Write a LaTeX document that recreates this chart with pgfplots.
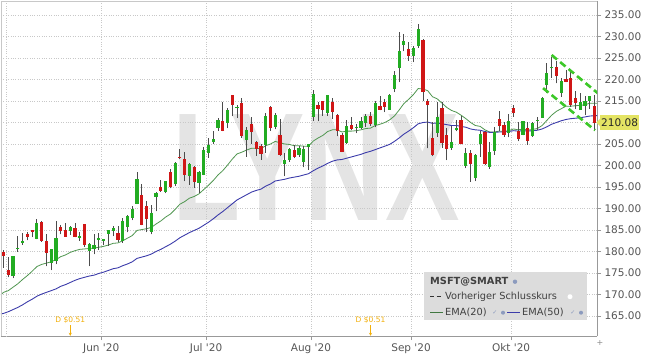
\documentclass[border=0pt]{standalone}
\usepackage{pgfplots}
\pgfplotsset{compat=1.18}
\usepackage{pgfplotstable}
\usepackage{fontspec}
\setmainfont{DejaVu Sans}[Ligatures=TeXOff]
\newfontfamily\wmfont{Liberation Sans}
\usetikzlibrary{arrows.meta}
\definecolor{upg}{RGB}{34,172,34}
\definecolor{dnr}{RGB}{208,22,22}
\definecolor{emag}{RGB}{80,150,80}
\definecolor{emab}{RGB}{60,60,170}
\definecolor{gridc}{RGB}{200,200,200}
\definecolor{lblc}{RGB}{85,85,85}
\definecolor{divc}{RGB}{242,175,10}
\definecolor{hlc}{RGB}{228,228,100}
\definecolor{chan}{RGB}{60,200,40}
\definecolor{wm}{RGB}{228,228,228}
\definecolor{legbg}{RGB}{220,220,220}
\definecolor{icon}{RGB}{140,155,190}

\pgfplotstableread{
i o h l c
1 174.49 179.00 173.80 178.84
2 180.62 183.65 179.90 180.76
3 182.08 184.20 181.63 182.54
6 183.15 187.51 182.85 186.74
9 177.54 180.69 175.68 180.53
10 178.00 187.06 177.00 183.16
13 184.81 185.85 183.94 185.66
15 183.19 184.46 182.54 183.51
17 180.20 181.99 176.60 181.81
18 180.74 184.10 179.32 181.40
19 182.73 184.27 180.41 183.25
20 182.54 183.00 181.46 182.83
21 184.25 185.00 181.35 184.91
22 184.82 185.94 183.58 185.36
24 182.62 187.73 182.01 187.20
25 185.94 188.55 184.44 188.36
26 188.00 190.64 187.32 189.80
27 191.13 198.52 191.01 196.84
30 184.58 190.82 184.01 188.94
31 192.89 193.75 189.32 193.57
33 194.00 196.49 193.60 196.32
35 195.79 200.76 195.23 200.57
38 197.80 200.61 195.47 200.34
40 196.00 198.75 193.63 198.44
41 197.88 204.40 197.74 203.51
42 203.14 206.35 201.77 204.70
43 205.68 208.02 205.00 206.26
44 208.83 211.13 208.09 210.70
46 210.07 213.26 208.69 212.83
48 213.62 214.08 211.08 213.67
50 206.13 208.85 202.03 208.35
54 205.00 212.30 203.01 211.60
56 209.20 212.30 208.39 211.75
58 200.42 202.86 197.51 201.30
59 201.47 203.97 200.86 203.85
61 202.50 204.65 202.01 204.06
62 201.00 204.46 199.57 203.90
63 204.40 205.10 199.01 205.01
64 211.52 217.64 210.44 216.54
67 212.34 216.37 211.55 216.35
71 205.29 210.61 205.00 209.19
73 208.76 209.59 207.51 208.90
74 208.87 211.19 208.50 210.28
75 210.03 212.00 209.00 211.49
77 209.54 215.00 208.91 214.58
80 213.10 216.61 213.10 216.47
81 217.88 222.07 217.05 221.15
82 222.89 231.15 219.40 226.58
83 228.18 230.64 226.58 228.91
85 225.51 227.89 224.02 227.27
86 227.97 232.86 227.35 231.65
90 207.60 214.84 206.70 211.29
93 204.24 209.20 203.65 205.41
94 208.42 210.57 207.96 208.78
96 200.05 204.10 199.38 202.91
98 197.19 202.71 196.38 202.54
99 205.06 208.10 202.08 207.42
101 199.85 205.57 199.20 203.19
102 203.55 209.04 202.54 207.82
105 207.73 211.98 206.54 210.33
108 207.22 210.41 206.98 210.38
110 207.06 210.11 206.72 209.83
111 210.51 211.19 208.32 210.58
112 211.23 215.86 211.23 215.81
113 218.79 223.86 216.81 221.40
114 222.72 225.21 220.43 222.86
116 217.10 220.36 216.01 219.66
120 213.12 216.92 213.12 214.80
121 213.93 216.06 211.70 214.89
122 215.03 216.28 213.16 216.23
}\upT

\pgfplotstableread{
i o h l c
-1 180.00 180.40 176.23 179.21
0 175.80 178.64 174.01 174.57
4 184.17 184.55 182.58 183.60
5 184.98 185.00 183.36 184.68
7 186.80 187.04 182.30 182.51
8 182.55 184.05 176.54 179.75
11 185.75 186.20 183.96 184.91
12 185.03 186.60 183.49 183.63
14 185.40 186.67 183.29 183.43
16 186.34 186.50 181.10 181.57
23 184.30 185.84 182.30 182.92
28 193.13 195.77 186.07 186.27
29 190.54 191.72 184.50 187.74
32 195.03 196.72 193.86 194.24
34 198.59 199.29 194.67 195.15
36 202.09 203.95 201.43 201.91
37 201.60 203.25 196.36 197.84
39 199.73 199.89 194.88 196.33
45 210.45 214.67 207.99 208.25
47 216.33 216.38 211.47 214.32
49 214.48 215.80 206.50 207.07
51 209.56 211.33 205.03 208.04
52 205.40 205.70 202.31 203.92
53 204.47 205.04 201.39 202.88
55 213.66 213.94 208.03 208.75
57 207.19 210.92 202.15 202.54
60 203.61 204.70 201.74 202.02
65 214.17 214.77 210.31 213.29
66 214.90 215.00 211.57 212.94
68 214.85 215.70 210.93 212.48
69 211.67 211.88 206.76 208.25
70 207.16 207.65 203.14 203.38
72 209.44 211.35 208.15 208.70
76 211.49 212.50 209.30 209.70
78 213.86 216.25 212.85 213.02
79 214.79 215.52 212.43 213.69
84 227.00 228.70 224.31 225.53
87 229.27 229.31 214.96 217.30
88 215.10 215.42 204.00 214.25
89 206.50 210.03 202.20 202.66
91 213.40 214.74 204.11 205.37
92 207.20 208.63 201.24 204.03
95 210.62 211.43 204.90 205.05
97 202.80 203.65 196.25 200.39
100 207.90 208.10 200.03 200.59
103 210.88 212.57 208.06 209.44
104 209.35 210.07 206.72 207.26
106 213.49 213.99 211.32 212.46
107 208.00 210.19 205.65 206.19
109 208.82 210.18 204.82 205.91
115 223.00 224.22 219.13 220.86
117 220.15 222.29 219.32 219.66
118 220.42 222.30 213.72 214.22
119 215.80 217.37 213.09 214.65
123 213.85 216.34 208.10 210.08
}\dnT

\pgfplotstableread{
i e20 e50
-1.6 169.9 165.5
-1 170.5 165.6
0 170.9 166.0
1 171.7 166.5
2 172.5 167.0
3 173.5 167.6
4 174.4 168.3
5 175.4 168.9
6 176.5 169.6
7 177.0 170.1
8 177.3 170.5
9 177.6 170.9
10 178.1 171.3
11 178.8 171.9
12 179.2 172.3
13 179.8 172.8
14 180.2 173.3
15 180.5 173.7
16 180.6 174.0
17 180.7 174.3
18 180.8 174.5
19 181.0 174.9
20 181.2 175.2
21 181.5 175.6
22 181.9 176.0
23 182.0 176.2
24 182.5 176.7
25 183.1 177.1
26 183.7 177.6
27 184.9 178.4
28 185.1 178.7
29 185.3 179.0
30 185.6 179.4
31 186.4 180.0
32 187.1 180.5
33 188.0 181.1
34 188.7 181.7
35 189.8 182.4
36 191.0 183.2
37 191.6 183.8
38 192.4 184.4
39 192.8 184.9
40 193.4 185.4
41 194.4 186.1
42 195.4 186.8
43 196.5 187.6
44 197.8 188.5
45 198.8 189.3
46 200.1 190.2
47 201.5 191.1
48 202.7 192.0
49 203.1 192.6
50 203.6 193.2
51 204.0 193.8
52 204.0 194.2
53 203.9 194.5
54 204.6 195.2
55 205.0 195.7
56 205.6 196.4
57 205.3 196.6
58 205.0 196.8
59 204.9 197.1
60 204.6 197.3
61 204.6 197.5
62 204.5 197.8
63 204.5 198.1
64 205.7 198.8
65 206.4 199.4
66 207.0 199.9
67 207.9 200.5
68 208.3 201.0
69 208.3 201.3
70 207.8 201.4
71 208.0 201.7
72 208.0 202.0
73 208.1 202.3
74 208.3 202.6
75 208.6 203.0
76 208.7 203.3
77 209.3 203.7
78 209.6 204.1
79 210.0 204.5
80 210.6 204.9
81 211.5 205.6
82 212.9 206.4
83 214.4 207.3
84 215.4 208.0
85 216.5 208.8
86 217.9 209.7
87 217.8 210.0
88 217.4 210.1
89 216.0 209.8
90 215.5 209.9
91 214.5 209.7
92 213.5 209.5
93 212.8 209.3
94 212.4 209.3
95 211.7 209.1
96 210.9 208.9
97 210.0 208.5
98 209.3 208.3
99 209.1 208.2
100 208.3 207.9
101 207.8 207.7
102 207.8 207.7
103 208.0 207.8
104 207.9 207.8
105 208.1 207.9
106 208.5 208.1
107 208.3 208.0
108 208.5 208.1
109 208.2 208.0
110 208.4 208.1
111 208.6 208.2
112 209.3 208.5
113 210.5 209.0
114 211.7 209.6
115 212.6 210.0
116 213.2 210.4
117 213.8 210.7
118 213.8 210.9
119 213.9 211.0
120 214.0 211.1
121 214.1 211.3
122 214.5 211.5
123 214.5 211.6
123.6 214.5 211.6
}\emaT

\begin{document}
\begin{tikzpicture}[x=1bp,y=1bp]
\useasboundingbox (0,0) rectangle (645,358);
% watermark
\node[font=\wmfont\bfseries\fontsize{154bp}{154bp}\selectfont, text=wm, xscale=0.725, inner sep=0pt] at (316,190) {LYNX};
\begin{axis}[
  at={(1bp,22bp)}, anchor=south west,
  scale only axis, width=596bp, height=335bp,
  xmin=-1.53, xmax=123.52, ymin=160.35, ymax=238.26,
  axis x line*=bottom, axis y line*=right,
  axis line style={draw=black!40, line width=0.8bp},
  xtick={19.5,41.5,63.5,84.5,105.5},
  xticklabels={Jun '20,Jul '20,Aug '20,Sep '20,Okt '20},
  extra x ticks={-0.5}, extra x tick labels={},
  extra x tick style={grid=major, major tick length=0pt},
  ytick={165,170,175,180,185,190,195,200,205,215,220,225,230,235},
  extra y ticks={210}, extra y tick labels={},
  extra y tick style={grid=major},
  grid=major, major grid style={draw=gridc, dotted, line width=0.7bp},
  tick align=outside, major tick length=4bp,
  tick style={draw=black!40, line width=0.6bp},
  /pgf/number format/assume math mode=true,
  ticklabel style={font=\fontsize{10.5bp}{12bp}\selectfont, text=lblc},
  yticklabel style={/pgf/number format/.cd, fixed, fixed zerofill, precision=2},
  clip=true,
]
% EMA lines
\addplot[emag, line width=0.8bp] table[x=i, y=e20] {\emaT};
\addplot[emab, line width=0.9bp] table[x=i, y=e50] {\emaT};
% wicks
\addplot[only marks, mark=*, mark size=0pt, mark options={draw=none, fill=none},
  error bars/.cd, y dir=plus, y explicit, error mark=none,
  error bar style={line width=0.8bp, draw=black!70}]
  table[x=i, y=l, y error plus expr=\thisrow{h}-\thisrow{l}] {\upT};
\addplot[only marks, mark=*, mark size=0pt, mark options={draw=none, fill=none},
  error bars/.cd, y dir=plus, y explicit, error mark=none,
  error bar style={line width=0.8bp, draw=black!70}]
  table[x=i, y=l, y error plus expr=\thisrow{h}-\thisrow{l}] {\dnT};
% bodies
\addplot[only marks, mark=-, mark size=1.6bp, mark options={draw=upg, line width=0.8bp},
  error bars/.cd, y dir=plus, y explicit, error mark=none,
  error bar style={line width=3.2bp, draw=upg}]
  table[x=i, y=o, y error plus expr=\thisrow{c}-\thisrow{o}] {\upT};
\addplot[only marks, mark=-, mark size=1.6bp, mark options={draw=dnr, line width=0.8bp},
  error bars/.cd, y dir=plus, y explicit, error mark=none,
  error bar style={line width=3.2bp, draw=dnr}]
  table[x=i, y=c, y error plus expr=\thisrow{o}-\thisrow{c}] {\dnT};
% channel
\addplot[chan, line width=2.6bp, dash pattern=on 7bp off 4bp] coordinates {(114.0,225.7) (123.7,216.8)};
\addplot[chan, line width=2.6bp, dash pattern=on 7bp off 4bp] coordinates {(112.2,218.0) (123.1,208.2)};
% dividends
\node[font=\fontsize{7.5bp}{8bp}\selectfont, text=divc] at (axis cs:13,164.1) {D \$0.51};
\draw[divc, line width=0.8bp, -{Stealth[length=3bp,width=3bp]}] (axis cs:13,162.8) -- (axis cs:13,160.4);
\node[font=\fontsize{7.5bp}{8bp}\selectfont, text=divc] at (axis cs:76,164.1) {D \$0.51};
\draw[divc, line width=0.8bp, -{Stealth[length=3bp,width=3bp]}] (axis cs:76,162.8) -- (axis cs:76,160.4);
\end{axis}
% left/top frame
\draw[gridc, line width=0.6bp] (1,22) -- (1,357) -- (597,357);
% last price marker
\fill[hlc] (596.5,235.5) -- (600,239.3) -- (600,231.7) -- cycle;
\node[fill=hlc, anchor=west, inner sep=1.5bp, minimum height=15bp, font=\fontsize{10.5bp}{12bp}\selectfont, text=black!85] at (599.5,235.5) {210.08};
% legend
\fill[legbg] (424,38) rectangle (587,86);
\node[anchor=west, inner sep=0pt, font=\bfseries\fontsize{9.8bp}{11bp}\selectfont, text=black!75] at (430,76.3) {MSFT@SMART};
\fill[icon] (515,76.3) circle (2.2bp);
\draw[black!80, line width=0.9bp, dash pattern=on 4bp off 2.5bp] (430,61.3) -- (442,61.3);
\node[anchor=west, inner sep=0pt, font=\fontsize{9.8bp}{11bp}\selectfont, text=black!75] at (445,61.3) {Vorheriger Schlusskurs};
\fill[white] (570,61.3) circle (2.5bp);
\draw[emag!80!black, line width=1bp] (430,45.3) -- (443,45.3);
\node[anchor=west, inner sep=0pt, font=\fontsize{9.8bp}{11bp}\selectfont, text=black!75] at (445,45.3) {EMA(20)};
\node[inner sep=0pt, font=\fontsize{6bp}{7bp}\selectfont, text=icon] at (495,45.3) {✓};
\fill[icon] (503,45.3) circle (2bp);
\draw[emab, line width=1bp] (507,45.3) -- (520,45.3);
\node[anchor=west, inner sep=0pt, font=\fontsize{9.8bp}{11bp}\selectfont, text=black!75] at (522,45.3) {EMA(50)};
\node[inner sep=0pt, font=\fontsize{6bp}{7bp}\selectfont, text=icon] at (573,45.3) {✓};
\fill[icon] (581,45.3) circle (2bp);
% corner symbol
\node[inner sep=0pt, font=\fontsize{8bp}{9bp}\selectfont, text=black!45] at (600,15) {+};
\end{tikzpicture}
\end{document}
